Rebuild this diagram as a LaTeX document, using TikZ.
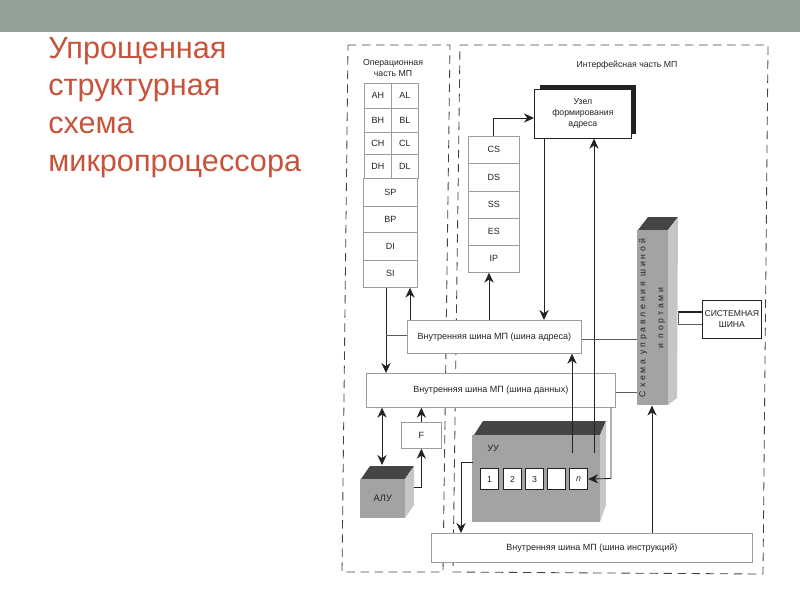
\documentclass[tikz,border=0pt]{standalone}
\usepackage{fontspec}
\setmainfont{Liberation Sans}
\usepackage{xcolor}
\usetikzlibrary{calc,arrows.meta,positioning}
\definecolor{bandc}{HTML}{92A299}
\definecolor{titlec}{HTML}{C8533B}
\definecolor{inkc}{HTML}{222222}
\definecolor{linec}{HTML}{5A5A5A}
\definecolor{topc}{HTML}{454545}
\definecolor{frontc}{HTML}{A3A3A3}
\definecolor{sidec}{HTML}{C6C6C6}
\tikzset{
  ar/.style={-{Stealth[length=2.5mm,width=2.3mm]},line width=.6pt,inkc},
  arb/.style={{Stealth[length=2.5mm,width=2.3mm]}-{Stealth[length=2.5mm,width=2.3mm]},line width=.6pt,inkc},
  ln/.style={line width=.5pt,linec},
  frame/.style={dash pattern=on 6pt off 4pt,line width=.6pt,inkc!85},
  regbox/.style 2 args={draw=linec!60,line width=.5pt,fill=white,font=\fontsize{6.4}{8}\selectfont,text=inkc,minimum width=#1*.025cm,minimum height=#2*.025cm,inner sep=0pt,anchor=north west},
  body/.style 2 args={fill=frontc,minimum width=#1*.025cm,minimum height=#2*.025cm,inner sep=0pt,anchor=north west},
  cell/.style={draw=inkc,line width=.8pt,fill=white,font=\fontsize{6.2}{8}\selectfont,text=inkc,minimum width=18*.025cm,minimum height=21*.025cm,inner sep=0pt,anchor=north west},
  lbl/.style={font=\fontsize{6.2}{7.8}\selectfont,text=inkc,align=center}
}
\begin{document}
\begin{tikzpicture}[x=.025cm,y=-.025cm]
\useasboundingbox (0,0) rectangle (800,600);
\fill[bandc] (0,0) rectangle (800,32);
\node[titlec,anchor=north west,align=left,inner sep=0pt,font=\fontsize{21.8}{26.7}\selectfont] (title) at (48,37) {Упрощенная\\структурная\\схема\\микропроцессора};
% dashed frames
\draw[frame] (348,45)--(450,45)--(443,572)--(342,572)--cycle;
\draw[frame] (460,45)--(768,45)--(763,574)--(453,572)--cycle;
\node[lbl] (opcap) at (393,68) {Операционная\\часть МП};
\node[lbl] (ifcap) at (627,65) {Интерфейсная часть МП};
% left registers
\node[regbox={27}{25}] (ah) at (364,83) {AH};
\node[regbox={27}{25}] (al) at (391,83) {AL};
\node[regbox={27}{24}] (bh) at (364,108) {BH};
\node[regbox={27}{24}] (bl) at (391,108) {BL};
\node[regbox={27}{22}] (ch) at (364,132) {CH};
\node[regbox={27}{22}] (cl) at (391,132) {CL};
\node[regbox={27}{24}] (dh) at (364,154) {DH};
\node[regbox={27}{24}] (dl) at (391,154) {DL};
\node[regbox={54}{28}] (sp) at (363,178) {SP};
\node[regbox={54}{26}] (bp) at (363,206) {BP};
\node[regbox={54}{28}] (di) at (363,232) {DI};
\node[regbox={54}{27}] (si) at (363,260) {SI};
% segment registers
\node[regbox={51}{27}] (cs) at (468,136) {CS};
\node[regbox={51}{28}] (ds) at (468,163) {DS};
\node[regbox={51}{27}] (ss) at (468,191) {SS};
\node[regbox={51}{27}] (es) at (468,218) {ES};
\node[regbox={51}{27}] (ip) at (468,245) {IP};
% address unit
\fill[inkc] (540,85) rectangle (636,134);
\node[regbox={97}{49},draw=inkc,lbl] (addr) at (534,89) {Узел\\формирования\\адреса};
% buses
\node[regbox={174}{33}] (busa) at (407,320) {Внутренняя шина МП (шина адреса)};
\node[regbox={249}{34}] (busd) at (366,373) {Внутренняя шина МП (шина данных)};
\node[regbox={321}{29}] (busi) at (431,533) {Внутренняя шина МП (шина инструкций)};
% flags and ALU
\node[regbox={40}{26}] (flag) at (401,422) {F};
\fill[topc] (361,479)--(370,466)--(414,466)--(405,479)--cycle;
\fill[sidec] (405,479)--(414,466)--(414,505)--(405,518)--cycle;
\node[body={45}{39},font=\fontsize{6.6}{8}\selectfont,text=inkc] (alu) at (360,479) {АЛУ};
% control unit
\fill[topc] (474,435)--(483,421)--(606,421)--(600,435)--cycle;
\fill[sidec] (600,435)--(606,421)--(606,505)--(600,522)--cycle;
\node[body={128}{87}] (uubody) at (472,435) {};
\node[font=\fontsize{6.4}{8}\selectfont,text=inkc,anchor=west,inner sep=0pt] (uu) at (487,448) {УУ};
\node[cell] (c1) at (480,468) {1};
\node[cell] (c2) at (503,468) {2};
\node[cell] (c3) at (525,468) {3};
\node[cell] (c4) at (547,468) {};
\node[cell] (cn) at (569,468) {\itshape n};
% bus controller
\fill[topc] (638,230)--(648,217)--(678,217)--(668,230)--cycle;
\fill[sidec] (668,230)--(678,217)--(677,398)--(668,405)--cycle;
\node[body={31}{175}] (ctrlbody) at (637,230) {};
\node[rotate=90,lbl,font=\fontsize{6.2}{12.8}\selectfont\addfontfeature{LetterSpace=32}] (ctrl) at (652,318) {Схема управления шиной\\и портами};
\node[regbox={59}{38},draw=inkc,align=center,font=\fontsize{6.1}{8}\selectfont] (sysbus) at (702,300) {СИСТЕМНАЯ\\ШИНА};
% connectors
\coordinate (ctrlthick) at (678,312);
\coordinate (ctrlthin) at (678,324);
\coordinate (uua) at (572,453);
\coordinate (uub) at (594,453);
\coordinate (uuleft) at (473,462);
\coordinate (alutop) at (382,465);
\coordinate (aluout) at (414,487);
\coordinate (dbus) at (611,478.5);
\draw[line width=1.5pt,inkc] (ctrlthick)--(sysbus.west|-ctrlthick);
\draw[ln] (ctrlthin)--(sysbus.west|-ctrlthin);
\draw[ln] (ctrlthick)--(ctrlthin);
\draw[ar] (493,0|-cs.north)--(493,118)--(addr.west|-0,118);
\draw[ar] (544,0|-addr.south)--(544,0|-busa.north);
\draw[ar] (uub)--(uub|-addr.south);
\draw[ar] (489,0|-busa.north)--(489,0|-ip.south);
\draw[ar] (386,0|-si.south)--(386,0|-busd.north);
\draw[ar] (410,0|-busa.north)--(410,0|-si.south);
\draw[ln] (386,335)--(busa.west|-0,335);
\draw[ar] (uua)--(uua|-busa.south);
\draw[ln] (busa.east|-0,339)--(ctrlbody.west|-0,339);
\draw[ln] (busd.east|-0,392)--(ctrlbody.west|-0,392);
\draw[ar] (dbus|-busd.south)--(dbus)--(cn.east);
\draw[ar] (652,0|-busi.north)--(652,0|-ctrlbody.south);
\draw[arb] (382,0|-busd.south)--(alutop);
\draw[ar] (flag.north)--(flag.north|-busd.south);
\draw[ar] (aluout)-|(flag.south);
\draw[ar] (uuleft)--(461,462)--(461,0|-busi.north);
\end{tikzpicture}
\end{document}
